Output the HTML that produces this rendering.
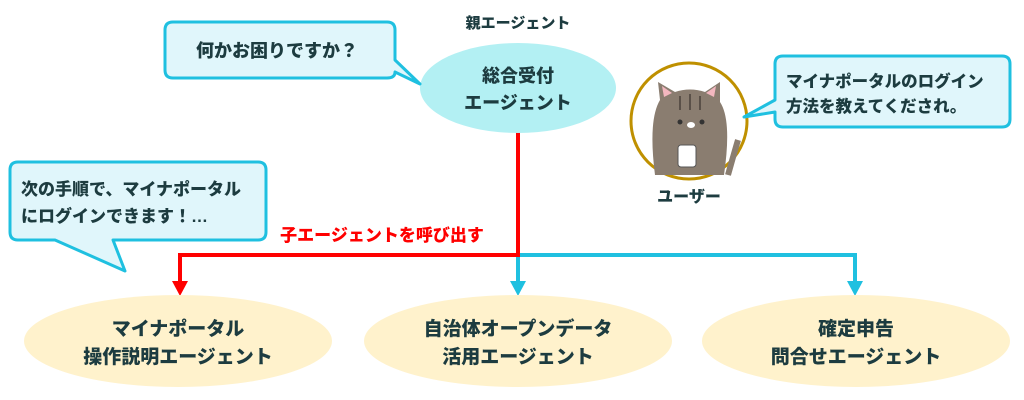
<!DOCTYPE html>
<html><head><meta charset="utf-8"><style>
html,body{margin:0;padding:0;background:#fff}
svg{display:block}
text{font-family:"Liberation Sans","Noto Sans CJK JP",sans-serif;font-weight:900;fill:#1d3c40}
</style></head><body>
<svg width="1024" height="400" viewBox="0 0 1024 400" xmlns="http://www.w3.org/2000/svg">
<!-- connectors -->
<polyline points="518,255 855,255 855,283" fill="none" stroke="#1fc0e0" stroke-width="4"/>
<line x1="518" y1="255" x2="518" y2="283" stroke="#1fc0e0" stroke-width="4"/>
<polygon points="510,281 526,281 518,296" fill="#1fc0e0"/>
<polygon points="847,281 863,281 855,296" fill="#1fc0e0"/>
<polyline points="518,132 518,255 180,255 180,283" fill="none" stroke="#ff0000" stroke-width="4"/>
<polygon points="172,281 188,281 180,296" fill="#ff0000"/>
<text x="382" y="241" font-size="17" text-anchor="middle" style="fill:#ff0000">子エージェントを呼び出す</text>

<!-- parent -->
<text x="518" y="28" font-size="15" text-anchor="middle">親エージェント</text>
<ellipse cx="518" cy="88" rx="98" ry="45" fill="#b3f0f3"/>
<text x="518" y="82" font-size="18" text-anchor="middle">総合受付</text>
<text x="518" y="109" font-size="18" text-anchor="middle">エージェント</text>

<!-- bubble 1 -->
<path d="M173,22 H387 Q395,22 395,30 V60 L420,84 L395,72 Q395,78 387,78 H173 Q165,78 165,70 V30 Q165,22 173,22 Z" fill="#e0f6fb" stroke="#1fc0e0" stroke-width="3" stroke-linejoin="round"/>
<text x="277" y="57" font-size="18" text-anchor="middle">何かお困りですか？</text>

<!-- bubble 2 -->
<path d="M18,162 H258 Q266,162 266,170 V232 Q266,240 258,240 H113 L125,271 L55,240 H18 Q10,240 10,232 V170 Q10,162 18,162 Z" fill="#e0f6fb" stroke="#1fc0e0" stroke-width="3" stroke-linejoin="round"/>
<text x="21" y="195" font-size="17">次の手順で、マイナポータル</text>
<text x="21" y="222" font-size="17">にログインできます！…</text>

<!-- cat -->
<circle cx="689" cy="121" r="58" fill="#fff" stroke="#bf9000" stroke-width="3"/>
<g>
<path d="M655,175 Q648,120 660,100 L658,82 L675,92 Q690,87 705,92 L720,82 L720,102 Q732,120 724,175 Z" fill="#8a7d70"/>
<path d="M662,86 L664,97 L672,93 Z M716,86 L714,97 L706,93 Z" fill="#f3b7bf"/>
<circle cx="680" cy="122" r="2.5" fill="#333"/><circle cx="702" cy="122" r="2.5" fill="#333"/>
<ellipse cx="691" cy="125" rx="4" ry="3" fill="#fff"/>
<rect x="678" y="145" width="18" height="22" rx="3" fill="#fff" stroke="#555"/>
<path d="M680,96 V110 M690,94 V110 M700,96 V110" stroke="#5a5048" stroke-width="2"/>
<path d="M728,175 Q735,150 738,140" stroke="#8a7d70" stroke-width="6" fill="none"/>
</g>
<text x="689" y="202" font-size="16" text-anchor="middle">ユーザー</text>

<!-- bubble 3 -->
<path d="M783,56 H1002 Q1010,56 1010,64 V119 Q1010,127 1002,127 H783 Q775,127 775,119 V112 L744,117 L775,100 V64 Q775,56 783,56 Z" fill="#e0f6fb" stroke="#1fc0e0" stroke-width="3" stroke-linejoin="round"/>
<text x="786" y="87" font-size="16.5">マイナポータルのログイン</text>
<text x="786" y="112" font-size="16.5">方法を教えてくだされ。</text>

<!-- children -->
<ellipse cx="178" cy="341" rx="154" ry="46" fill="#fff2cc"/>
<text x="178" y="335" font-size="19" text-anchor="middle">マイナポータル</text>
<text x="178" y="363" font-size="19" text-anchor="middle">操作説明エージェント</text>
<ellipse cx="518" cy="341" rx="154" ry="46" fill="#fff2cc"/>
<text x="518" y="335" font-size="19" text-anchor="middle">自治体オープンデータ</text>
<text x="518" y="363" font-size="19" text-anchor="middle">活用エージェント</text>
<ellipse cx="856" cy="341" rx="154" ry="46" fill="#fff2cc"/>
<text x="856" y="335" font-size="19" text-anchor="middle">確定申告</text>
<text x="856" y="363" font-size="19" text-anchor="middle">問合せエージェント</text>
</svg>
</body></html>
